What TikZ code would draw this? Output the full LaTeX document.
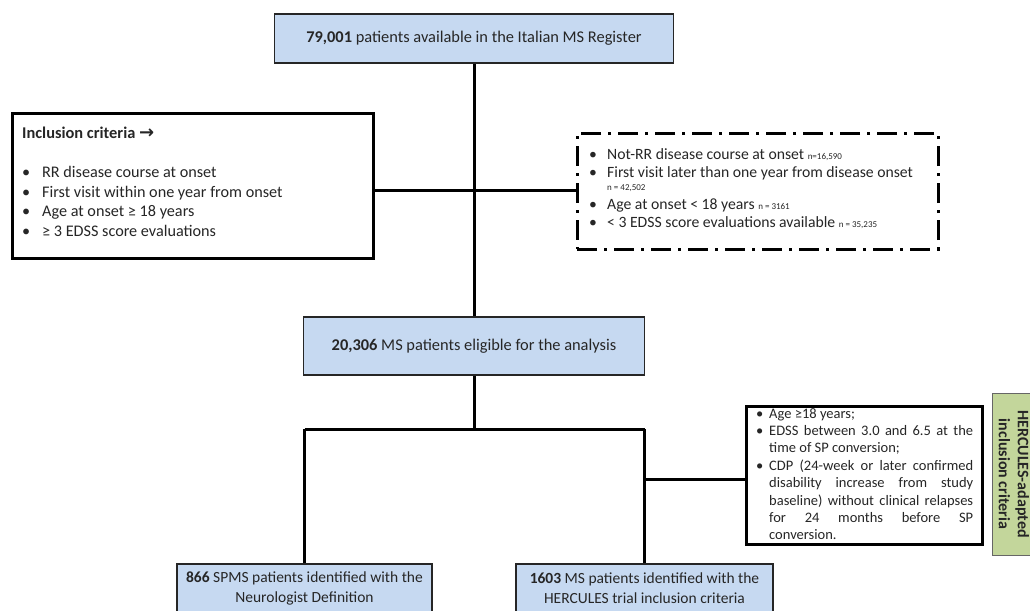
\documentclass[tikz,border=0pt]{standalone}
\usepackage{fontspec}
\setmainfont{Carlito}
\newfontfamily\dejavu{DejaVu Sans}
\definecolor{blueF}{RGB}{198,217,241}
\definecolor{greenF}{RGB}{195,214,155}
\definecolor{ink}{RGB}{38,38,38}
\begin{document}
\begin{tikzpicture}[x=1pt,y=-1pt,
  conn/.style={line width=3pt, draw=black},
  bluebox/.style={draw=black!85, line width=1.6pt, fill=blueF, inner sep=0, text=ink, align=center},
  plainbox/.style={draw=black, line width=3pt, fill=white, inner sep=0},
  dashbox/.style={draw=black, line width=3pt, dash pattern=on 20pt off 7pt on 3pt off 7pt, fill=white, inner sep=0},
  greenbox/.style={draw=black!60, line width=1pt, fill=greenF, inner sep=0, text=ink, align=center},
  txt/.style={anchor=base west, inner sep=0, text=ink, font=\fontsize{16.2}{18}\selectfont},
  dtxt/.style={anchor=base west, inner sep=0, text=ink, font=\fontsize{15.7}{17}\selectfont},
  small/.style={font=\fontsize{9}{10}\selectfont}
]
\clip (0,0) rectangle (1030,610);

% boxes
\node[bluebox, minimum width=399pt, minimum height=49pt, font=\fontsize{16.4}{18}\selectfont] (top) at (474,38.5)
  {\textbf{79,001} patients available in the Italian MS Register};
\node[plainbox, minimum width=361pt, minimum height=145pt] (incl) at (192.5,185.5) {};
\node[dashbox, minimum width=361pt, minimum height=116pt] (excl) at (757.5,191) {};
\node[bluebox, minimum width=341pt, minimum height=58pt, font=\fontsize{16.4}{18}\selectfont] (mid) at (474,346)
  {\textbf{20,306} MS patients eligible for the analysis};
\node[plainbox, minimum width=236pt, minimum height=138pt] (crit) at (864,475) {};
\node[bluebox, minimum width=255pt, minimum height=48pt, font=\fontsize{15.5}{20}\selectfont] (spms) at (304.5,588)
  {\textbf{866} SPMS patients identified with the\\Neurologist Definition};
\node[bluebox, minimum width=257pt, minimum height=48pt, font=\fontsize{15.5}{20}\selectfont] (herc) at (644.5,588)
  {\textbf{1603} MS patients identified with the\\HERCULES trial inclusion criteria};
\node[greenbox, rotate=-90, minimum width=162pt, minimum height=44pt, font=\fontsize{16}{19}\selectfont\bfseries] (green) at (1014,474)
  {HERCULES-adapted\\inclusion criteria};

% inclusion criteria text
\node[txt, font=\fontsize{16.4}{18}\selectfont\bfseries] (i0) at (22,138.5) {Inclusion criteria {\dejavu\bfseries\fontsize{18}{18}\selectfont →}};
\node[txt] (ib1) at (22,177.5) {•};
\node[txt] (it1) at (42,177.5) {RR disease course at onset};
\node[txt] (ib2) at (22,197) {•};
\node[txt] (it2) at (42,197) {First visit within one year from onset};
\node[txt] (ib3) at (22,216.5) {•};
\node[txt] (it3) at (42,216.5) {Age at onset ≥ 18 years};
\node[txt] (ib4) at (22,236) {•};
\node[txt] (it4) at (42,236) {≥ 3 EDSS score evaluations};

% exclusion text
\node[dtxt] (eb1) at (589,159) {•};
\node[dtxt] (et1) at (607,159) {Not-RR disease course at onset {\small n=16,590}};
\node[dtxt] (eb2) at (589,177) {•};
\node[dtxt] (et2) at (607,177) {First visit later than one year from disease onset};
\node[dtxt, small] (et2b) at (607,190) {n = 42,502};
\node[dtxt] (eb3) at (589,209) {•};
\node[dtxt] (et3) at (607,209) {Age at onset < 18 years {\small n = 3161}};
\node[dtxt] (eb4) at (589,227) {•};
\node[dtxt] (et4) at (607,227) {< 3 EDSS score evaluations available {\small n = 35,235}};

% HERCULES criteria text
\node[anchor=north west, inner sep=0, text=ink, text width=217pt, align=justify, font=\fontsize{14.5}{17.4}\selectfont] (crittext) at (756,408)
{%
\hangindent=13pt\hangafter=1\noindent\makebox[13pt][l]{•}Age ≥18 years;\par
\hangindent=13pt\hangafter=1\noindent\makebox[13pt][l]{•}EDSS between 3.0 and 6.5 at the\linebreak time of SP conversion;\par
\hangindent=13pt\hangafter=1\noindent\makebox[13pt][l]{•}CDP (24-week or later confirmed\linebreak disability increase from study\linebreak baseline) without clinical relapses\linebreak for 24 months before SP\linebreak conversion.\par
};

% connectors
\coordinate (j1) at (474,190);
\coordinate (j2) at (474,429);
\coordinate (j3) at (644.5,479);
\draw[conn] (top.south) -- (mid.north);
\draw[conn] (incl.east |- j1) -- (excl.west |- j1);
\draw[conn] (mid.south) -- (j2);
\draw[conn] (spms.north |- j2) -- (herc.north |- j2);
\draw[conn] (spms.north |- j2) -- (spms.north);
\draw[conn] (herc.north |- j2) -- (herc.north);
\draw[conn] (j3) -- (crit.west |- j3);
\end{tikzpicture}
\end{document}
